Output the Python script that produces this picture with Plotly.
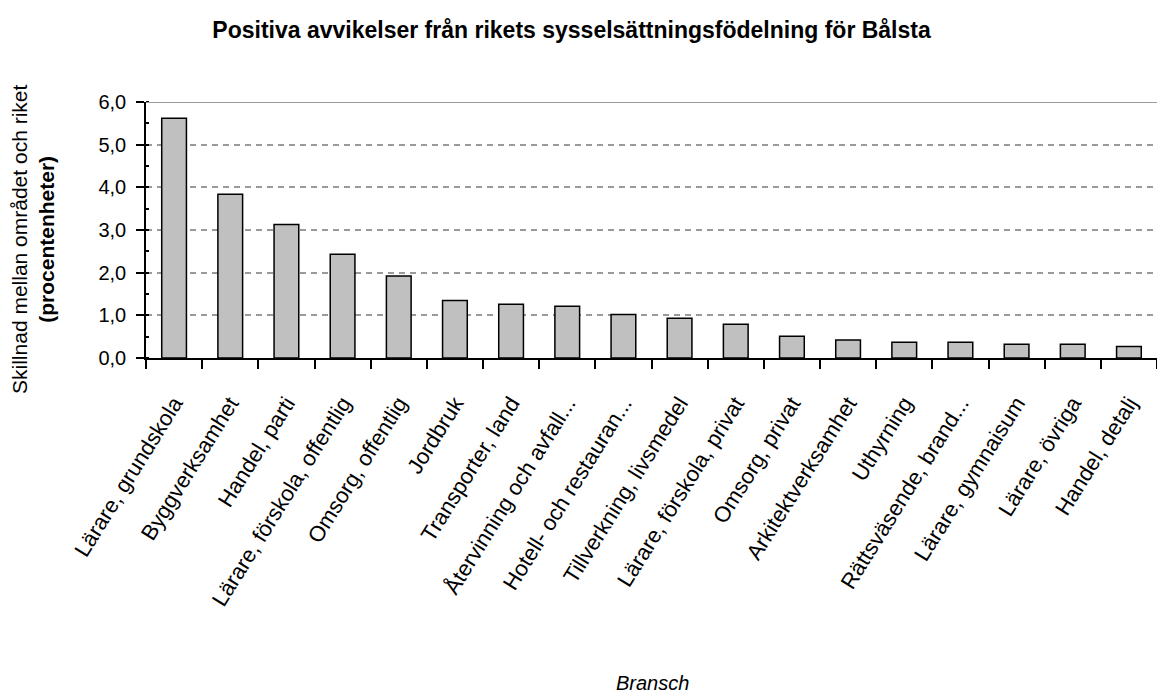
""" Bar chart: positive deviations in employment shares, Bålsta. """

import plotly.graph_objects as go


branscher = [
    "Lärare, grundskola",
    "Byggverksamhet",
    "Handel, parti",
    "Lärare, förskola, offentlig",
    "Omsorg, offentlig",
    "Jordbruk",
    "Transporter, land",
    "Återvinning och avfall...",
    "Hotell- och restauran...",
    "Tillverkning, livsmedel",
    "Lärare, förskola, privat",
    "Omsorg, privat",
    "Arkitektverksamhet",
    "Uthyrning",
    "Rättsväsende, brand...",
    "Lärare, gymnaisum",
    "Lärare, övriga",
    "Handel, detalj",
]
avvikelse = [5.62, 3.84, 3.13, 2.43, 1.92, 1.35, 1.26, 1.21, 1.02,
             0.93, 0.79, 0.51, 0.42, 0.37, 0.37, 0.32, 0.32, 0.27]

y_ticks = [0, 1, 2, 3, 4, 5, 6]

FONT = "Arial, Liberation Sans, sans-serif"

fig = go.Figure(
    go.Bar(
        x=branscher,
        y=avvikelse,
        marker=dict(color="#C0C0C0", line=dict(color="black", width=1.5)),
    )
)

fig.update_layout(
    width=1157,
    height=694,
    margin={"l": 146, "r": 0, "t": 102, "b": 336},
    paper_bgcolor="white",
    plot_bgcolor="white",
    separators=", ",
    bargap=0.56,
    showlegend=False,
    font=dict(family=FONT, size=20, color="black"),
    title=dict(
        text="<b>Positiva avvikelser från rikets sysselsättningsfödelning för Bålsta</b>",
        x=0.494,
        xanchor="center",
        y=0.957,
        yanchor="middle",
        font=dict(family=FONT, size=23, color="black"),
    ),
)

fig.update_yaxes(
    automargin=False,
    range=[0, 6],
    tickvals=y_ticks,
    tickformat=".1f",
    ticks="outside",
    ticklen=8,
    tickwidth=1.5,
    tickcolor="black",
    ticklabelstandoff=6,
    showline=True,
    linecolor="black",
    linewidth=1.5,
    showgrid=True,
    gridcolor="#9a9a9a",
    gridwidth=1.5,
    griddash="6px,5px",
    zeroline=False,
    minor=dict(dtick=0.5, ticks="inside", ticklen=3, tickcolor="black", showgrid=False),
)

fig.update_xaxes(
    automargin=False,
    ticks="outside",
    ticklen=9,
    tickwidth=1.5,
    tickcolor="black",
    tickson="boundaries",
    tickangle=-58,
    ticklabelstandoff=22,
    tickfont=dict(size=22),
    showline=True,
    linecolor="black",
    linewidth=1.5,
    showgrid=False,
)

# solid top border at 6,0
fig.add_shape(
    type="line", xref="paper", yref="y", x0=0, x1=1, y0=6, y1=6,
    line=dict(color="#9a9a9a", width=2),
)

# y axis title (two lines, second bold)
fig.add_annotation(
    text="Skillnad mellan området och riket<br><b>(procentenheter)</b>",
    xref="paper", yref="paper", x=0, y=0.461,
    xshift=-113, xanchor="center", yanchor="middle",
    textangle=-90, showarrow=False,
    font=dict(family=FONT, size=21, color="black"),
)

# x axis title
fig.add_annotation(
    text="<i>Bransch</i>",
    xref="paper", yref="paper", x=0.501, y=-1.27,
    xanchor="center", yanchor="middle", showarrow=False,
    font=dict(family=FONT, size=20, color="black"),
)

fig.write_html(
    "out.html",
    config={"displayModeBar": False},
    post_script="document.body.style.margin='0';document.body.style.overflow='hidden';",
)
